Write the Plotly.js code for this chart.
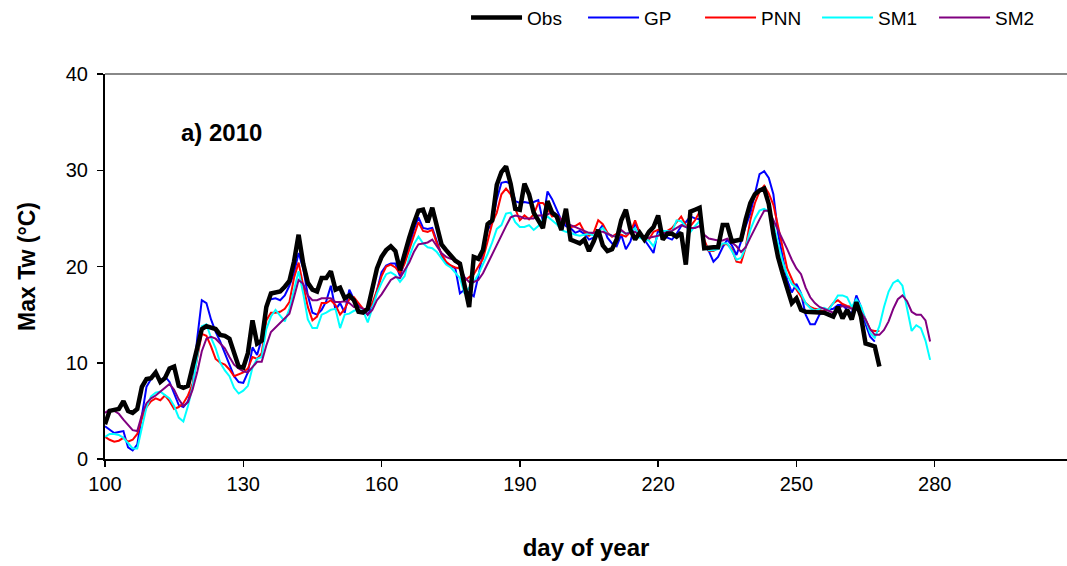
<!DOCTYPE html>
<html>
<head>
<meta charset="utf-8">
<script src="https://cdn.plot.ly/plotly-3.0.1.min.js"></script>
<style>html,body{margin:0;padding:0;background:#fff;}#chart{width:1067px;height:566px;}</style>
</head>
<body>
<div id="chart"></div>
<script>
// Day of year of the first value in every series
const startDay = 100;
const xTicks = [100, 130, 160, 190, 220, 250, 280];
const yTicks = [0, 10, 20, 30, 40];

// Observed max water temperature (days 100-268)
const obs = [
  3.6, 5.0, 5.1, 5.2, 6.0, 5.0, 4.8, 5.2, 7.5, 8.3,
  8.4, 9.0, 8.0, 8.4, 9.4, 9.6, 7.6, 7.4, 7.6, 9.5,
  11.8, 13.5, 13.8, 13.6, 13.5, 12.9, 12.8, 12.5, 11.0, 9.6,
  9.5, 11.0, 14.4, 12.0, 12.3, 15.8, 17.2, 17.3, 17.4, 17.9,
  18.5, 20.5, 23.3, 20.3, 18.3, 17.6, 17.4, 18.8, 18.8, 19.5,
  17.6, 17.8, 16.7, 17.0, 16.5, 15.3, 15.2, 15.6, 17.5, 19.8,
  21.0, 21.7, 22.1, 21.6, 19.6, 21.4, 23.0, 24.5, 25.8, 25.9,
  24.6, 26.1, 24.0, 22.3, 21.7, 21.2, 20.6, 20.3, 17.9, 15.8,
  21.0, 20.8, 21.7, 24.4, 24.8, 28.5, 29.8, 30.4, 28.6, 26.0,
  25.9, 28.6, 27.5, 25.6, 24.8, 24.0, 26.8, 25.6, 25.2, 23.8,
  26.0, 22.8, 22.6, 22.4, 22.8, 21.6, 22.6, 23.8, 22.2, 21.6,
  21.8, 22.8, 24.8, 25.9, 23.8, 22.8, 23.5, 22.8, 23.6, 24.1,
  25.3, 22.8, 23.4, 23.4, 23.1, 23.5, 20.2, 25.7, 25.9, 26.1,
  21.9, 22.0, 22.0, 22.0, 24.3, 24.3, 22.6, 22.7, 22.8, 24.9,
  26.6, 27.5, 27.9, 28.1, 26.5, 23.4, 21.0, 19.3, 17.6, 16.2,
  16.7, 15.5, 15.3, 15.3, 15.3, 15.3, 15.2, 15.0, 14.8, 15.8,
  14.6, 15.5, 14.5, 16.3, 14.8, 12.0, 11.8, 11.7, 9.6
];

// GP model (days 100-267)
const gp = [
  3.4, 3.0, 2.7, 2.8, 2.9, 1.2, 0.9, 1.5, 4.5, 7.5,
  8.3, 9.1, 8.0, 8.6, 8.0, 6.8, 5.6, 5.4, 6.0, 7.5,
  12.5, 16.5, 16.2, 14.5, 13.2, 12.2, 11.0, 10.0, 8.6, 8.0,
  7.9, 9.0, 11.6, 10.8, 12.5, 16.0, 16.6, 16.7, 16.5, 17.0,
  18.0, 19.3, 21.4, 19.8, 17.0, 15.2, 15.0, 15.5, 16.4, 18.0,
  15.5, 16.2, 15.2, 17.6, 16.6, 16.0, 15.6, 15.0, 15.8, 17.5,
  19.4, 20.1, 20.3, 20.3, 19.0, 20.5, 22.0, 23.8, 25.1, 24.0,
  23.9, 24.0, 22.6, 21.2, 20.3, 20.1, 19.8, 17.2, 17.6, 17.2,
  16.9, 19.0, 21.5, 23.8, 24.5, 27.0, 28.7, 28.8, 28.6, 26.8,
  26.6, 26.7, 26.6, 26.7, 26.9, 24.7, 27.8, 27.0, 25.9, 24.8,
  24.2, 24.0, 23.5, 23.7, 23.4, 22.8, 23.0, 23.6, 24.3, 23.0,
  22.4, 22.1, 23.3, 21.8, 22.6, 24.5, 23.5, 22.8, 22.1, 21.4,
  23.8, 23.1, 23.0, 22.8, 23.4, 24.2, 24.6, 25.2, 25.0, 24.9,
  22.1, 21.6, 20.5, 21.0, 22.0, 22.8, 22.2, 21.2, 22.6, 24.2,
  25.5, 27.5, 29.6, 29.9, 29.2, 27.5, 23.5, 21.0, 18.6, 17.3,
  18.2, 17.2, 15.0, 14.0, 14.0, 15.0, 15.4, 15.5, 15.6, 16.0,
  16.0, 15.5, 15.1, 17.0, 15.8, 14.0, 12.7, 12.2
];

// PNN model (days 100-268)
const pnn = [
  2.3, 2.0, 1.8, 1.9, 2.2, 1.8, 2.0, 2.6, 4.2, 5.4,
  6.0, 6.3, 6.1, 6.6, 6.0, 5.2, 5.4, 5.8, 6.6, 7.8,
  10.5, 13.0, 12.8, 11.7, 10.4, 10.0, 9.8, 9.3, 8.6, 8.8,
  9.0, 9.4, 10.6, 10.4, 11.0, 14.4, 15.2, 15.2, 15.3, 15.6,
  16.3, 18.8, 20.4, 18.0, 15.8, 14.4, 14.8, 16.2, 16.2, 16.5,
  16.0, 15.0, 15.6, 16.6, 16.8, 16.2, 15.6, 15.5, 16.2, 17.5,
  19.0, 20.0, 20.2, 19.9, 19.3, 20.3, 21.7, 23.3, 24.6, 23.7,
  23.6, 23.8, 22.4, 21.3, 20.5, 20.1, 19.9, 19.8, 18.5, 18.9,
  19.2, 20.0, 20.8, 22.6, 24.5, 25.6, 27.5, 28.1, 27.5, 26.0,
  24.8, 25.3, 24.9, 25.4, 26.6, 26.6, 26.0, 25.2, 25.3, 24.9,
  24.6, 24.1, 24.2, 24.5, 23.6, 23.2, 23.5, 24.8, 24.4, 23.5,
  23.1, 23.4, 23.3, 23.1, 23.6, 24.8, 23.5, 23.0, 22.8, 23.6,
  23.8, 23.6, 23.7, 24.0, 24.6, 25.2, 24.3, 24.2, 24.8, 25.7,
  22.8, 21.6, 21.6, 22.0, 22.3, 22.3, 21.8, 20.5, 20.4, 22.0,
  24.8, 26.6, 27.8, 28.4, 27.6, 26.4, 24.2, 21.9, 19.8, 18.7,
  17.6, 16.9, 16.2, 15.8, 15.6, 15.5, 15.3, 15.6, 16.2, 16.5,
  16.1, 15.9, 15.8, 16.2, 15.6, 14.5, 13.4, 13.3, 13.3
];

// SM1 model (days 100-279)
const sm1 = [
  2.3, 2.6, 2.6, 2.5, 2.2, 1.6, 1.1, 1.1, 3.2, 5.4,
  6.5, 6.9, 7.0, 6.6, 6.3, 5.5, 4.3, 3.9, 5.5, 7.5,
  10.8, 13.8, 14.0, 12.6, 11.5, 10.0, 9.2, 8.6, 7.4, 6.8,
  7.1, 7.6, 9.5, 10.4, 10.6, 13.5, 14.8, 15.5, 14.9, 14.3,
  15.6, 17.5, 19.5, 17.2, 14.5, 13.6, 13.6, 15.0, 15.2, 15.5,
  15.6, 13.6, 15.0, 15.1, 15.4, 15.5, 15.4, 14.2, 15.6, 17.2,
  18.3, 19.2, 19.4, 19.1, 18.4, 19.0, 21.0, 22.3, 23.1, 22.4,
  22.0, 21.9, 21.5, 20.8, 20.2, 19.9, 19.4, 18.8, 17.2, 17.8,
  18.4, 19.2, 20.2, 21.3, 22.5, 23.9, 24.3, 25.5, 25.6, 24.6,
  24.1, 24.1, 24.3, 23.8, 24.2, 24.8, 25.2, 24.8, 24.4, 23.8,
  23.6, 23.5, 23.3, 23.2, 23.3, 23.4, 23.2, 23.6, 24.0, 23.4,
  23.2, 23.1, 23.7, 23.4, 23.6, 24.0, 23.0, 22.8, 22.7, 22.1,
  23.3, 23.7, 23.7, 23.6, 24.8, 24.7, 24.1, 23.6, 24.2, 24.7,
  22.3, 21.7, 21.7, 21.8, 22.4, 22.4, 21.6, 20.7, 20.9, 22.0,
  23.8, 25.0, 25.8, 26.0, 25.7, 24.4, 22.4, 20.5, 19.1, 18.2,
  17.8, 17.2, 16.2, 15.7, 15.4, 15.6, 15.7, 15.5, 16.2, 17.0,
  17.0, 16.8, 15.8, 16.6, 15.9, 14.5, 13.1, 12.6, 13.8, 15.8,
  17.4, 18.3, 18.6, 18.0, 15.8, 13.3, 13.9, 13.6, 12.3, 10.3
];

// SM2 model (days 100-279)
const sm2 = [
  4.8, 5.1, 5.0, 4.7, 4.1, 3.5, 3.0, 2.9, 4.6, 5.8,
  6.3, 6.6, 7.0, 7.4, 7.8, 7.2, 6.2, 5.5, 5.9, 7.2,
  9.0, 11.2, 12.5, 12.7, 12.5, 12.0, 11.5, 10.6, 9.8, 9.4,
  9.1, 9.0, 9.6, 10.1, 10.1, 11.8, 13.2, 13.7, 14.2, 14.6,
  15.1, 16.8, 18.6, 18.2, 17.0, 16.5, 16.5, 16.7, 16.7, 16.7,
  16.3, 16.3, 16.4, 16.2, 15.8, 15.8, 15.6, 15.0, 15.5, 16.5,
  17.1, 17.9, 18.6, 18.9, 18.8, 19.6, 20.4, 21.5, 22.3, 22.4,
  22.5, 22.8, 22.1, 21.4, 21.0, 20.8, 20.7, 20.0, 18.9, 18.4,
  18.4, 18.6, 19.3, 20.3, 21.2, 22.3, 23.2, 24.2, 25.1, 25.3,
  25.2, 25.0, 25.0, 25.0, 25.3, 25.3, 25.4, 25.7, 25.4, 24.8,
  24.5, 24.3, 24.1, 23.9, 23.7, 23.5, 23.5, 23.6, 23.6, 23.4,
  23.2, 23.1, 23.8, 23.4, 23.5, 23.6, 23.2, 23.0, 23.0, 23.1,
  23.2, 23.4, 23.6, 23.7, 24.0, 24.3, 24.1, 24.0, 24.0, 24.2,
  23.3, 22.9, 22.8, 22.7, 22.7, 22.9, 22.5, 22.1, 21.5, 22.0,
  23.0, 24.0, 24.9, 25.8, 25.8, 24.8, 23.8, 22.9, 21.8, 20.7,
  19.8, 19.2, 17.8, 16.8, 16.2, 15.8, 15.6, 15.4, 15.2, 15.7,
  15.9, 15.8, 15.6, 15.5, 15.3, 14.5, 13.5, 12.9, 12.9, 13.4,
  14.3, 15.6, 16.6, 17.0, 16.4, 15.3, 15.0, 15.0, 14.4, 12.2
];

function daysFor(values) {
  return values.map(function (_, i) { return startDay + i; });
}

const FONT = 'Liberation Sans, Arial, Helvetica, sans-serif';

const series = [
  { name: 'Obs', y: obs, color: '#000000', width: 4.5 },
  { name: 'GP', y: gp, color: '#0000FF', width: 2 },
  { name: 'PNN', y: pnn, color: '#FF0000', width: 2 },
  { name: 'SM1', y: sm1, color: '#00FFFF', width: 2 },
  { name: 'SM2', y: sm2, color: '#800080', width: 2 }
];

const traces = series.map(function (s) {
  return {
    type: 'scatter', mode: 'lines', name: s.name,
    x: daysFor(s.y), y: s.y,
    line: { color: s.color, width: s.width }
  };
});

// draw Obs on top of the models, keep legend order Obs, GP, PNN, SM1, SM2
const ordered = traces.slice(1).concat([traces[0]]);
ordered.forEach(function (t) { t.legendrank = series.findIndex(function (s) { return s.name === t.name; }) + 1; });

const layout = {
  width: 1067, height: 566,
  margin: { l: 105, r: 0, t: 74, b: 107, autoexpand: false },
  paper_bgcolor: '#ffffff', plot_bgcolor: '#ffffff',
  font: { family: FONT, color: '#000000' },
  showlegend: true,
  legend: {
    orientation: 'h', x: 0.3753, xanchor: 'left', y: 1.196, yanchor: 'top',
    font: { family: FONT, size: 19, color: '#000000' },
    itemwidth: 51, entrywidth: 51, traceorder: 'normal', bgcolor: 'rgba(0,0,0,0)'
  },
  xaxis: {
    range: [100, 308.7], tickvals: xTicks, ticktext: xTicks.map(String),
    automargin: false,
    showline: true, linecolor: '#000000', linewidth: 2,
    ticks: 'outside', ticklen: 6, tickwidth: 1.5, tickcolor: '#000000',
    showgrid: false, zeroline: false,
    tickfont: { family: FONT, size: 20, color: '#000000' },
    title: { text: '<b>day of year</b>', font: { family: FONT, size: 24, color: '#000000' }, standoff: 45 }
  },
  yaxis: {
    range: [0, 40], tickvals: yTicks, automargin: false,
    showline: true, linecolor: '#000000', linewidth: 2,
    ticks: 'outside', ticklen: 6, tickwidth: 1.5, tickcolor: '#000000',
    ticklabelstandoff: 5,
    showgrid: false, zeroline: false,
    tickfont: { family: FONT, size: 20, color: '#000000' },
    title: { text: '<b>Max Tw (°C)</b>', font: { family: FONT, size: 23, color: '#000000' }, standoff: 24 }
  },
  shapes: [
    { type: 'line', xref: 'paper', yref: 'paper', x0: 0, x1: 1, y0: 1, y1: 1,
      line: { color: '#888888', width: 2 } }
  ],
  annotations: [
    { text: '<b>a) 2010</b>', xref: 'paper', yref: 'paper', x: 0.1206, y: 0.849,
      xanchor: 'center', yanchor: 'middle', showarrow: false,
      font: { family: FONT, size: 24, color: '#000000' } }
  ]
};

Plotly.newPlot('chart', ordered, layout, { displayModeBar: false, staticPlot: true });
</script>
</body>
</html>
